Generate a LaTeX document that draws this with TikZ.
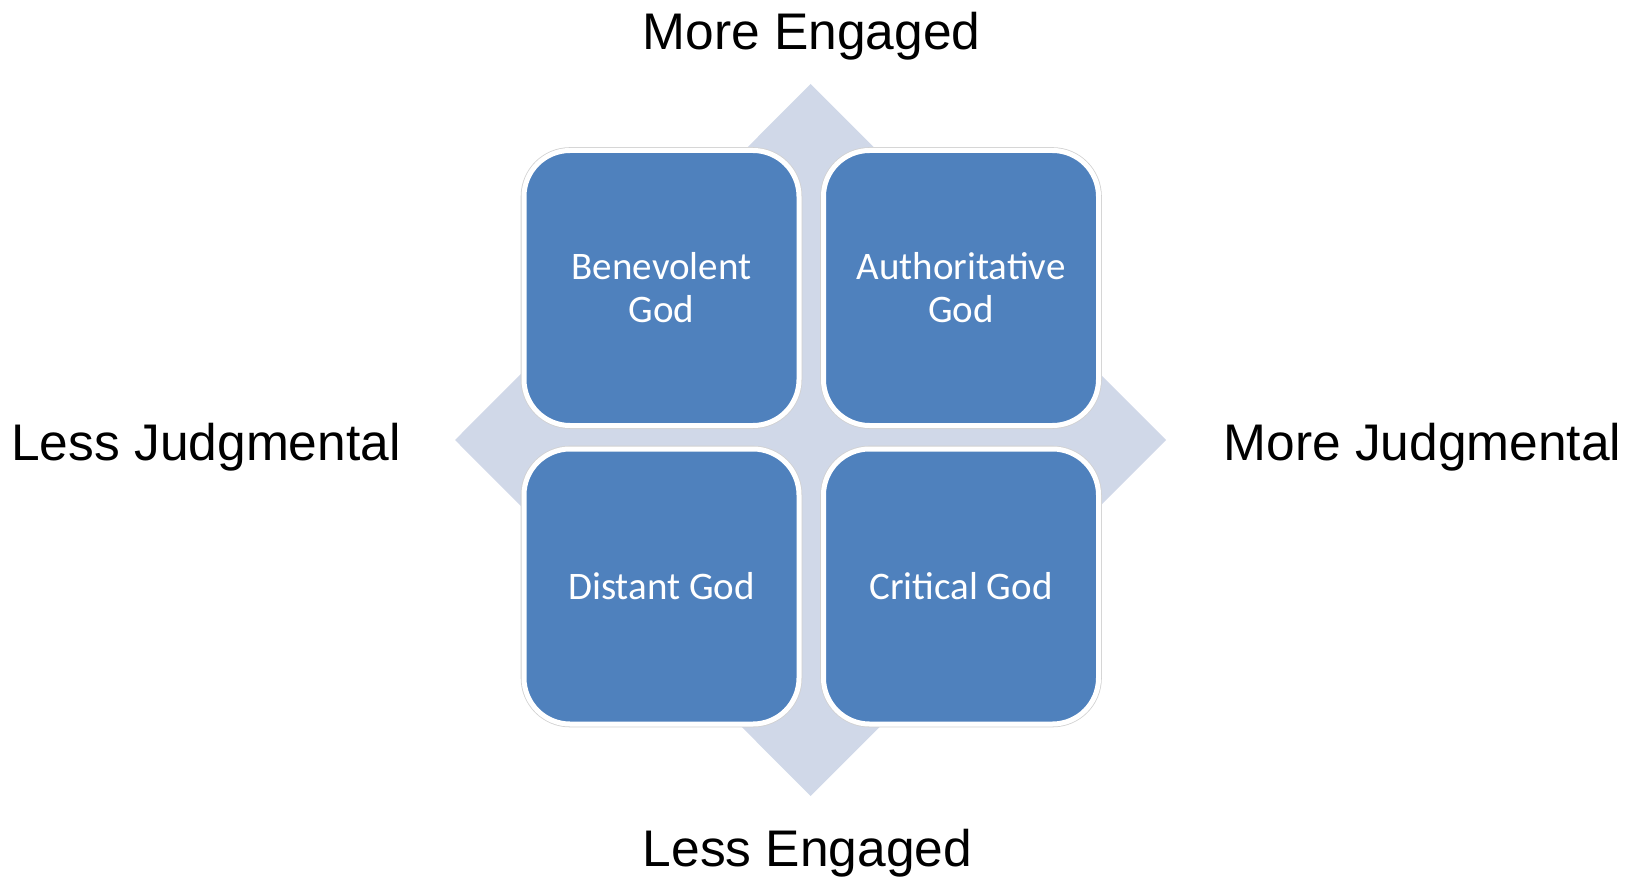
\documentclass[tikz,border=0pt]{standalone}
\usepackage{fontspec}
\setmainfont{Liberation Sans}
\newfontfamily\boxfont{Carlito}
\definecolor{boxblue}{HTML}{4F81BD}
\definecolor{diamcol}{HTML}{D0D8E8}
\begin{document}
\begin{tikzpicture}[x=1pt,y=-1pt,
  godbox/.style={rectangle, minimum width=275pt, minimum height=275pt, inner sep=0pt,
    rounded corners=46pt, fill=boxblue, draw=white, line width=5pt,
    preaction={draw=black!18, line width=6.6pt},
    text=white, align=center,
    font=\boxfont\fontsize{39}{43}\selectfont},
  axislabel/.style={anchor=base, inner sep=0pt, font=\fontsize{51.5}{60}\selectfont}]
\useasboundingbox (0,0) rectangle (1631,877);
% background diamond
\coordinate (dt) at (810.7,84);
\coordinate (dr) at (1166,440);
\coordinate (db) at (810.7,796);
\coordinate (dl) at (455,440);
\fill[diamcol] (dt) -- (dr) -- (db) -- (dl) -- cycle;
% quadrant boxes
\node[godbox] (ben) at (661.5,288) {Benevolent\\God};
\node[godbox] (auth) at (961,288) {Authoritative\\God};
\node[godbox] (dist) at (661.5,586.5) {Distant God};
\node[godbox] (crit) at (961,586.5) {Critical God};
% axis labels
\node[axislabel] (moreeng) at (811.5,50) {More Engaged};
\node[axislabel] (lesseng) at (807.5,866) {Less Engaged};
\node[axislabel] (lessjud) at (206,460) {Less Judgmental};
\node[axislabel] (morejud) at (1422.5,460) {More Judgmental};
\end{tikzpicture}
\end{document}
